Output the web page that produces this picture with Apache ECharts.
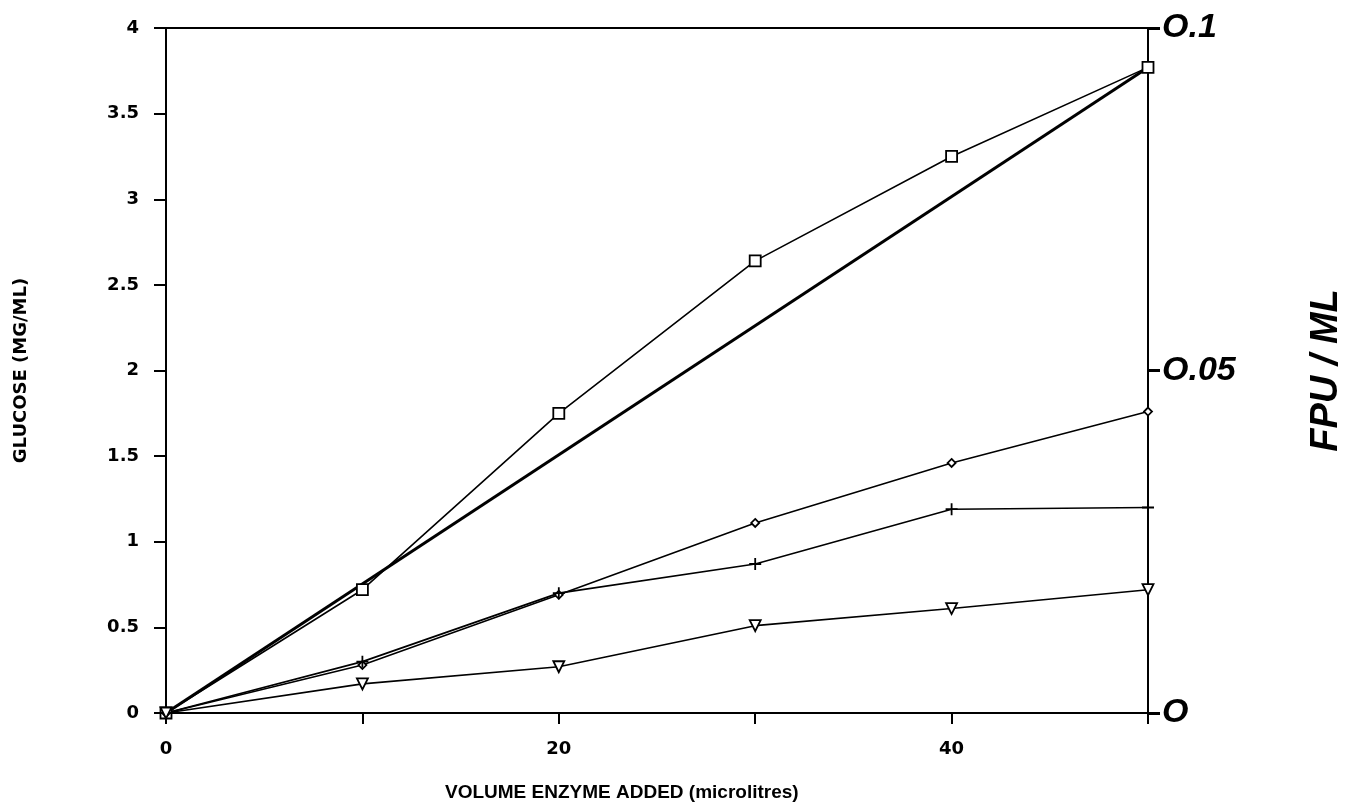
<!DOCTYPE html>
<html>
<head>
<meta charset="utf-8">
<script src="https://cdn.jsdelivr.net/npm/echarts@6/dist/echarts.min.js"></script>
<style>
  html, body { margin: 0; padding: 0; background: #fff; }
  #chart { width: 1355px; height: 807px; }
</style>
</head>
<body>
<div id="chart"></div>
<script>
// Volume of enzyme added (microlitres)
const volumes = [0, 10, 20, 30, 40, 50];

// Glucose released (mg/ml) for each sample
const squareSeries   = [0, 0.72, 1.75, 2.64, 3.25, 3.77];
const diamondSeries  = [0, 0.28, 0.69, 1.11, 1.46, 1.76];
const plusSeries     = [0, 0.30, 0.70, 0.87, 1.19, 1.20];
const triangleSeries = [0, 0.17, 0.27, 0.51, 0.61, 0.72];

// Straight reference line from the origin to the top square point
const refLineX = [0, 50];
const refLineY = [0, 3.77];

// Tick labels
const xTickLabels = { 0: '0', 20: '20', 40: '40' };
const rightTickLabels = { 0: 'O', 0.05: 'O.05', 0.1: 'O.1' };

const pairs = (xs, ys) => xs.map((x, i) => [x, ys[i]]);

const chart = echarts.init(document.getElementById('chart'));

const tickFont = {
  color: '#000',
  fontFamily: 'DejaVu Sans',
  fontWeight: 'bold',
  fontSize: 18
};

const lineSeries = (name, data, symbol, size, extra) => Object.assign({
  name: name,
  type: 'line',
  data: data,
  symbol: symbol,
  symbolSize: size,
  showAllSymbol: true,
  lineStyle: { color: '#000', width: 1.6 },
  itemStyle: { color: '#fff', borderColor: '#000', borderWidth: 1.8 },
  z: 3
}, extra || {});

chart.setOption({
  animation: false,
  backgroundColor: '#fff',
  grid: {
    left: 166, right: 207, top: 28, bottom: 94,
    containLabel: false,
    outerBoundsMode: 'none',
    show: true, borderColor: '#000', borderWidth: 2
  },
  xAxis: {
    type: 'value',
    min: 0, max: 50, interval: 10,
    axisLine: { show: true, onZero: false, lineStyle: { color: '#000', width: 2 } },
    axisTick: { show: true, inside: false, length: 11, lineStyle: { color: '#000', width: 2 } },
    splitLine: { show: false },
    axisLabel: Object.assign({}, tickFont, {
      margin: 27,
      formatter: v => xTickLabels[v] !== undefined ? xTickLabels[v] : ''
    })
  },
  yAxis: [
    {
      type: 'value',
      min: 0, max: 4, interval: 0.5,
      position: 'left',
      name: 'GLUCOSE (MG/ML)',
      nameLocation: 'middle',
      nameGap: 136,
      nameRotate: 90,
      nameTextStyle: {
        color: '#000', fontFamily: 'DejaVu Sans', fontWeight: 'bold', fontSize: 18
      },
      axisLine: { show: true, lineStyle: { color: '#000', width: 2 } },
      axisTick: { show: true, length: 12, lineStyle: { color: '#000', width: 2 } },
      splitLine: { show: false },
      axisLabel: Object.assign({}, tickFont, { margin: 27 })
    },
    {
      type: 'value',
      min: 0, max: 0.1, interval: 0.05,
      position: 'right',
      name: 'FPU / ML',
      nameLocation: 'middle',
      nameGap: 160,
      nameRotate: 90,
      nameTextStyle: {
        color: '#000', fontFamily: 'Liberation Sans', fontWeight: 'bold',
        fontStyle: 'italic', fontSize: 38
      },
      axisLine: { show: true, lineStyle: { color: '#000', width: 2 } },
      axisTick: { show: true, length: 12, lineStyle: { color: '#000', width: 3 } },
      splitLine: { show: false },
      axisLabel: {
        color: '#000', fontFamily: 'Liberation Sans', fontWeight: 'bold',
        fontStyle: 'italic', fontSize: 34, margin: 14,
        formatter: v => {
          const key = Math.round(v * 100) / 100;
          return rightTickLabels[key] !== undefined ? rightTickLabels[key] : '';
        }
      }
    }
  ],
  graphic: [
    {
      type: 'text',
      left: 445,
      top: 783,
      style: {
        text: 'VOLUME ENZYME ADDED (microlitres)',
        fill: '#000',
        font: 'bold 19px "Liberation Sans"'
      }
    }
  ],
  series: [
    {
      name: 'reference',
      type: 'line',
      data: pairs(refLineX, refLineY),
      symbol: 'none',
      lineStyle: { color: '#000', width: 3 },
      z: 2
    },
    lineSeries('square', pairs(volumes, squareSeries), 'rect', 11),
    lineSeries('diamond', pairs(volumes, diamondSeries), 'diamond', 8),
    lineSeries('plus', pairs(volumes, plusSeries), 'path://M0,-6L0,6M-6,0L6,0', 12),
    lineSeries('triangle', pairs(volumes, triangleSeries), 'triangle', 11, { symbolRotate: 180 })
  ]
});
</script>
</body>
</html>
